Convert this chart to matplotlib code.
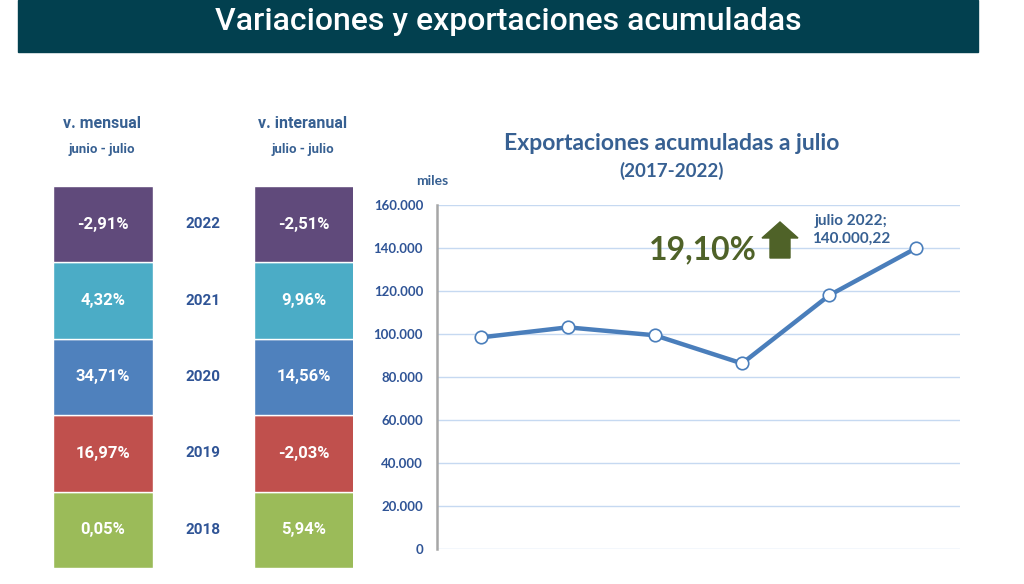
import matplotlib.pyplot as plt
from matplotlib.patches import Rectangle, FancyArrow
from matplotlib.ticker import FuncFormatter

# datos
years_blocks = ['2018', '2019', '2020', '2021', '2022']
v_mensual = ['0,05%', '16,97%', '34,71%', '4,32%', '-2,91%']
v_interanual = ['5,94%', '-2,03%', '14,56%', '9,96%', '-2,51%']
block_colors = ['#9BBB59', '#C0504D', '#4F81BD', '#4BACC6', '#604A7B']

years_line = ['2017', '2018', '2019', '2020', '2021', '2022']
exports = [98400, 103100, 99400, 86300, 118000, 140000.22]

dark_blue = '#2F5496'
title_blue = '#376092'

fig = plt.figure(figsize=(10.24, 5.84), dpi=100)

# banda de titulo
fig.patches.append(Rectangle((18 / 1024, 1 - 52 / 584), 960 / 1024, 52 / 584,
                             transform=fig.transFigure, color='#02404F', zorder=0))
fig.text(508 / 1024, 1 - 22 / 584, 'Variaciones y exportaciones acumuladas',
         color='white', fontsize=23, fontweight='medium', family='Roboto',
         ha='center', va='center')

# bloques de variaciones
axb = fig.add_axes([53 / 1024, 1 - 568 / 584, 300 / 1024, 382 / 584])
axb.set_xlim(0, 3)
axb.set_ylim(0, 5)
axb.axis('off')
for i in range(len(years_blocks)):
    axb.bar(0.5, 1, bottom=i, width=1, color=block_colors[i], edgecolor='white', linewidth=1)
    axb.bar(2.51, 1, bottom=i, width=0.99, color=block_colors[i], edgecolor='white', linewidth=1)
    axb.text(0.5, i + 0.5, v_mensual[i], color='white', fontsize=12, fontweight='bold',
             family='Roboto', ha='center', va='center')
    axb.text(2.51, i + 0.5, v_interanual[i], color='white', fontsize=12, fontweight='bold',
             family='Roboto', ha='center', va='center')
    axb.text(1.5, i + 0.5, years_blocks[i], color=dark_blue, fontsize=11, fontweight='bold',
             family='Roboto', ha='center', va='center')

fig.text(102 / 1024, 1 - 124 / 584, 'v. mensual', color=title_blue, fontsize=11.5,
         fontweight='bold', family='Roboto', ha='center', va='center')
fig.text(102 / 1024, 1 - 150 / 584, 'junio - julio', color=title_blue, fontsize=9.5,
         fontweight='bold', family='Roboto', ha='center', va='center')
fig.text(303 / 1024, 1 - 124 / 584, 'v. interanual', color=title_blue, fontsize=11.5,
         fontweight='bold', family='Roboto', ha='center', va='center')
fig.text(303 / 1024, 1 - 150 / 584, 'julio - julio', color=title_blue, fontsize=9.5,
         fontweight='bold', family='Roboto', ha='center', va='center')

# grafico de lineas
ax = fig.add_axes([437 / 1024, 1 - 549 / 584, 523 / 1024, 344 / 584])
x = list(range(len(years_line)))
ax.plot(x, exports, color='#4A7EBB', linewidth=3.2, marker='o', markersize=9,
        markerfacecolor='white', markeredgecolor='#4A7EBB', markeredgewidth=1.2,
        zorder=3, clip_on=False)
ax.set_xlim(-0.5, 5.5)
ax.set_ylim(0, 160000)
ax.set_yticks(range(0, 160001, 20000))
ax.yaxis.set_major_formatter(FuncFormatter(lambda v, p: f'{int(v):,}'.replace(',', '.')))
ax.set_xticks([])
ax.grid(axis='y', color='#C6D9F1', linewidth=1)
ax.set_axisbelow(True)
for s in ['top', 'right', 'bottom']:
    ax.spines[s].set_visible(False)
ax.spines['left'].set_color('#A6A6A6')
ax.spines['left'].set_linewidth(1.8)
ax.tick_params(axis='y', length=0, pad=10, labelsize=9.5, labelcolor=dark_blue)
for lab in ax.get_yticklabels():
    lab.set_fontweight('bold')
    lab.set_family('Lato')

ax.text(4.25, 148300, 'julio 2022;\n140.000,22', color=title_blue,
        fontsize=11, fontweight='bold', family='Lato', ha='center', va='center',
        linespacing=1.35)
ax.text(x[-1] - 1.83, 139000, '19,10%', color='#4F6228', fontsize=23, fontweight='bold',
        family='Lato', ha='right', va='center')

# flecha verde
fig.patches.append(FancyArrow(780 / 1024, 1 - 258 / 584, 0, 36 / 584, width=20 / 1024,
                              head_width=36 / 1024, head_length=16 / 584,
                              length_includes_head=True, transform=fig.transFigure,
                              color='#4F6228', zorder=5))

fig.text(672 / 1024, 1 - 143 / 584, 'Exportaciones acumuladas a julio', color=title_blue,
         fontsize=16.5, fontweight='bold', family='Lato', ha='center', va='center')
fig.text(672 / 1024, 1 - 171 / 584, '(2017-2022)', color=title_blue,
         fontsize=13.5, fontweight='bold', family='Lato', ha='center', va='center')
fig.text(432 / 1024, 1 - 181 / 584, 'miles', color=title_blue,
         fontsize=10, fontweight='bold', family='Lato', ha='center', va='center')

fig.savefig('out.png', dpi=100)
